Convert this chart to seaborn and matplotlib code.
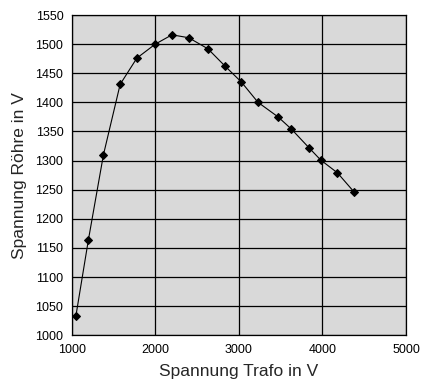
import pandas as pd
import numpy as np
import matplotlib
matplotlib.use("Agg")
import matplotlib.pyplot as plt
import seaborn as sns

# values
trafo = [1050, 1200, 1380, 1580, 1780, 2000, 2200, 2400, 2630, 2830,
         3030, 3230, 3470, 3630, 3840, 3980, 4180, 4380]
roehre = [1033, 1164, 1310, 1431, 1476, 1500, 1516, 1511, 1492, 1463,
          1435, 1400, 1375, 1354, 1322, 1301, 1279, 1246]
x_ticks = [1000, 2000, 3000, 4000, 5000]
y_ticks = list(range(1000, 1551, 50))

df = pd.DataFrame({'trafo': trafo, 'roehre': roehre})

sns.set_style('white')
plt.rcParams['font.family'] = ['Liberation Sans', 'DejaVu Sans']

fig = plt.figure(figsize=(4.28, 3.89), dpi=100)
ax = fig.add_axes([0.1675, 0.138, 0.781, 0.8234])
ax.set_facecolor('#d9d9d9')

sns.lineplot(x='trafo', y='roehre', data=df, ax=ax, color='black',
             linewidth=0.8, marker='D', markersize=4,
             markeredgecolor='black', markerfacecolor='black')

ax.set_xlim(1000, 5000)
ax.set_ylim(1000, 1550)
ax.set_xticks(x_ticks)
ax.set_yticks(y_ticks)
ax.grid(True, color='black', linewidth=0.9)
ax.set_axisbelow(True)
for s in ax.spines.values():
    s.set_color('black')
    s.set_linewidth(0.9)

ax.tick_params(axis='both', direction='out', length=4, width=0.9,
               colors='black', labelsize=9, pad=2)
ax.set_xlabel('Spannung Trafo in V', fontsize=12.5, labelpad=6)
ax.set_ylabel('Spannung Röhre in V', fontsize=12.5, labelpad=6)

fig.savefig('out.png', dpi=100)
